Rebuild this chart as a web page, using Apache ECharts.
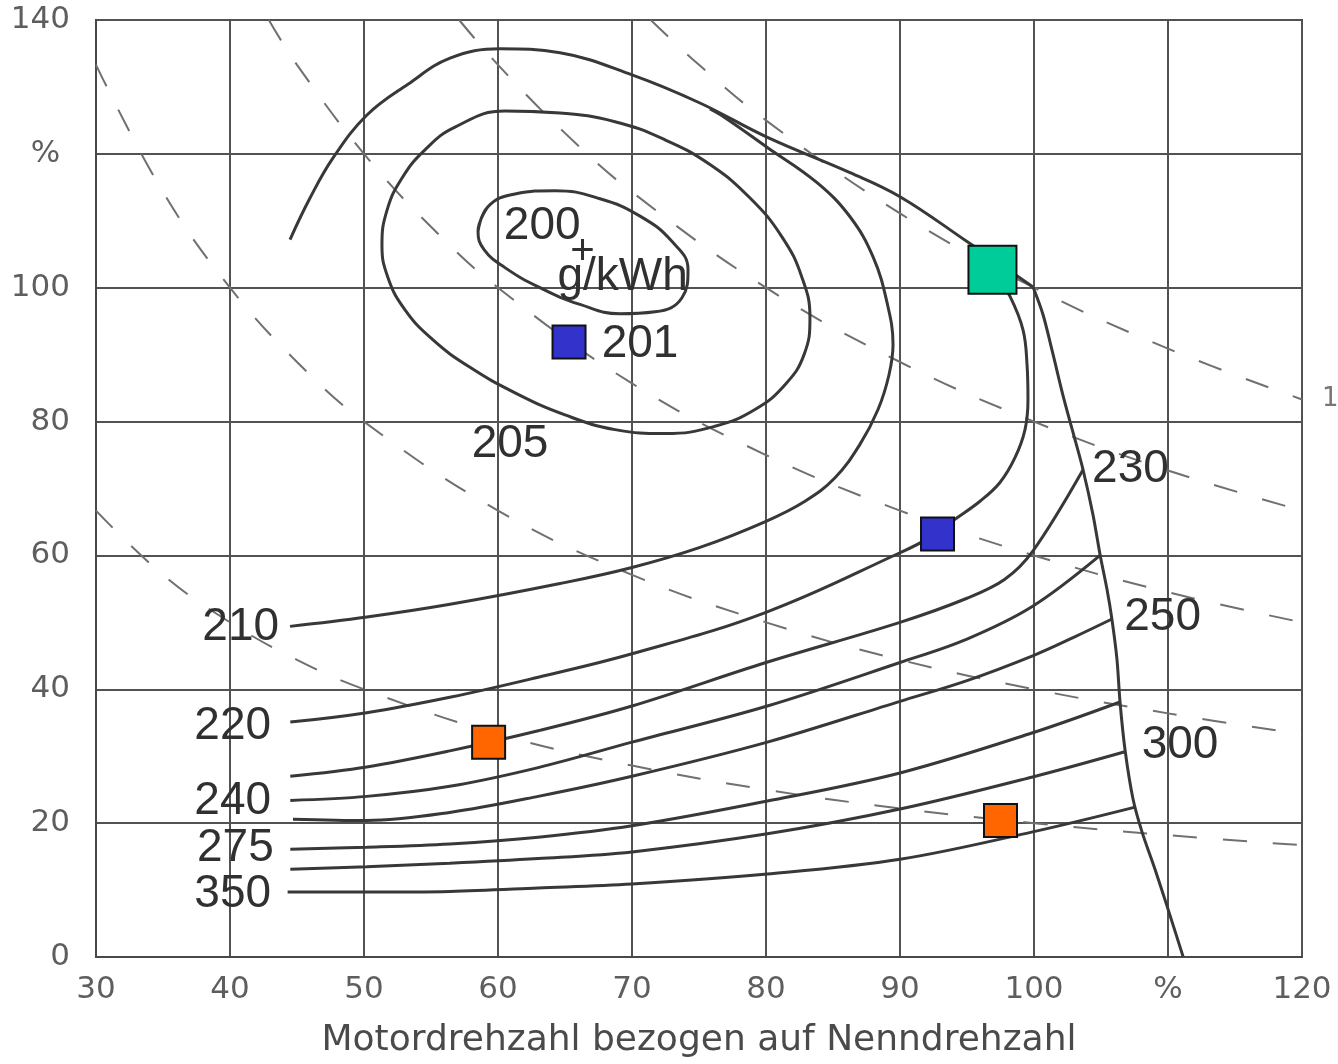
<!DOCTYPE html>
<html>
<head>
<meta charset="utf-8">
<script src="https://cdn.jsdelivr.net/npm/echarts@6/dist/echarts.min.js"></script>
<style>
html,body{margin:0;padding:0;background:#fff;}
#chart{width:1338px;height:1064px;}
</style>
</head>
<body>
<div id="chart"></div>
<script>
// ---- axis ticks ----
const xTickValues = [30, 40, 50, 60, 70, 80, 90, 100, 110, 120];
const xTickLabels = ['30', '40', '50', '60', '70', '80', '90', '100', '%', '120'];
const yTickValues = [0, 20, 40, 60, 80, 100, 120, 140];
const yTickLabels = ['0', '20', '40', '60', '80', '100', '% ', '140'];
const xAxisTitle = 'Motordrehzahl bezogen auf Nenndrehzahl';

// ---- full-load curve (speed %, load %) ----
const volllastOben = [[44.48,107.2],[45.97,113.4],[47.69,119.4],[50.22,125.8],[53.28,130.4],[56.42,134.3],[60.15,135.7],[64.63,135.1],[70.0,131.8],[75.07,127.6],[80.07,122.5],[86.27,117.2],[90.0,113.6],[95.0,106.9],[99.93,100.1]];
const volllastRechts = [[99.93,100.1],[100.67,96.0],[101.34,90.7],[102.24,83.3],[103.06,77.3],[103.66,72.8],[104.4,66.1],[104.93,60.1],[105.45,54.9],[105.82,50.4],[106.19,44.5],[106.42,38.1],[106.79,31.0],[107.39,23.6],[108.06,18.7],[109.03,13.1],[109.93,7.6],[111.12,0.1]];

// ---- specific fuel consumption contours (g/kWh) ----
const c201 = [[58.51,108.4],[59.25,112.1],[61.27,114.0],[64.25,114.5],[67.61,113.3],[70.6,110.7],[72.99,106.9],[74.18,102.7],[73.73,98.5],[71.72,96.4],[69.1,96.1],[66.12,97.5],[63.13,100.0],[60.52,103.0],[58.96,105.7],[58.51,108.4],[59.25,112.1]];
const c205 = [[60.52,126.4],[64.63,126.1],[68.73,124.8],[72.46,122.1],[75.82,118.4],[78.81,113.4],[81.19,107.6],[82.69,101.5],[83.28,95.5],[82.84,90.0],[81.42,85.5],[79.18,81.8],[76.19,79.3],[72.46,78.2],[68.73,78.8],[65.0,81.0],[61.27,84.3],[57.91,88.1],[55.15,92.2],[53.06,96.7],[51.79,101.5],[51.34,106.4],[51.72,111.6],[52.84,116.4],[54.55,120.6],[56.79,124.0],[60.52,126.4],[64.63,126.1]];
const c210 = [[44.48,49.4],[50.22,50.8],[56.42,52.7],[64.63,55.8],[70.0,58.2],[75.07,61.2],[80.0,65.1],[82.91,68.1],[85.15,71.6],[87.01,76.6],[88.36,81.8],[89.18,87.0],[89.48,91.5],[89.03,97.8],[87.99,104.6],[86.27,110.6],[83.81,115.7],[80.07,121.0],[76.94,125.4],[75.82,126.7]];
const c220 = [[44.5,35.1],[50.2,36.5],[56.4,38.8],[63.0,41.8],[70.0,45.3],[80.0,51.5],[90.0,60.4],[92.24,62.7],[94.1,65.4],[95.97,68.1],[97.46,70.9],[98.58,74.6],[99.33,78.8],[99.55,83.3],[99.48,88.5],[99.18,93.7],[98.21,98.7],[97.16,101.9]];
const c230 = [[44.5,27.0],[50.2,28.4],[56.4,30.8],[63.0,33.8],[70.0,37.5],[80.0,44.0],[90.0,50.0],[95.0,53.6],[97.8,56.4],[99.9,60.6],[103.66,72.8]];
const c240 = [[44.5,23.4],[50.2,24.0],[56.4,25.5],[63.0,28.3],[70.0,32.1],[80.1,37.5],[90.0,44.0],[95.0,47.5],[99.9,52.4],[104.93,60.0]];
const c250 = [[44.7,20.6],[50.2,20.4],[56.4,21.6],[63.0,24.0],[70.0,27.0],[80.1,32.1],[90.0,38.2],[95.0,41.3],[99.9,45.0],[103.0,47.8],[105.82,50.5]];
const c275 = [[44.5,16.1],[50.2,16.4],[56.4,16.9],[63.0,17.9],[70.0,19.6],[80.1,23.3],[90.0,27.5],[99.9,33.5],[106.42,38.1]];
const c300 = [[44.5,13.1],[50.2,13.5],[56.4,14.0],[63.0,14.7],[70.0,15.7],[80.1,18.4],[90.0,22.1],[99.9,26.9],[106.85,30.7]];
const c350 = [[44.3,9.7],[50.2,9.7],[56.4,9.8],[63.0,10.3],[70.0,10.9],[80.1,12.4],[90.0,14.6],[99.9,18.7],[107.55,22.4]];

// ---- constant-power lines (dashed) ----
const p20 = [[30,66.7],[35,57.1],[40,50.0],[45,44.4],[50,40.0],[60,33.3],[70,28.6],[80,25.0],[90,22.2],[100,20.0],[110,18.2],[120,16.7]];
const p40 = [[30,133.3],[35,114.3],[40,100.0],[45,88.9],[50,80.0],[60,66.7],[70,57.1],[80,50.0],[90,44.4],[100,40.0],[110,36.4],[120,33.3]];
const p60 = [[42.9,140],[45,133.3],[50,120.0],[55,109.1],[60,100.0],[70,85.7],[80,75.0],[90,66.7],[100,60.0],[110,54.5],[120,50.0]];
const p80 = [[57.1,140],[60,133.3],[65,123.1],[70,114.3],[80,100.0],[90,88.9],[100,80.0],[110,72.7],[120,66.7]];
const p100 = [[71.4,140],[75,133.3],[80,125.0],[90,111.1],[100,100.0],[110,90.9],[120,83.3]];

// ---- contour labels [speed, load, text] ----
const contourLabels = [[63.3,109.1,'200'],[69.3,101.5,'g/kWh'],[70.6,91.6,'201'],[60.9,76.6,'205'],[40.8,49.3,'210'],[40.2,34.5,'220'],[40.2,23.3,'240'],[40.4,16.3,'275'],[40.2,9.4,'350'],[107.2,72.8,'230'],[109.6,50.7,'250'],[110.9,31.6,'300']];
const optimumMark = [[66.3,105.2,'+']];

// ---- coloured operating points ----
const bluePoints = [[65.3,91.9],[92.8,63.2]];
const greenPoints = [[96.9,102.7]];
const orangePoints = [[59.3,32.1],[97.5,20.4]];

const lineColor = '#383838';
const contour = (name, data, s) => ({
  name, type: 'line', data, smooth: s, showSymbol: false, symbol: 'none',
  lineStyle: {color: lineColor, width: 3}, z: 3, silent: true
});
const dashed = (name, data) => ({
  name, type: 'line', data, smooth: 0.4, showSymbol: false, symbol: 'none',
  lineStyle: {color: '#707070', width: 2, type: [24, 26]}, z: 2, silent: true
});
const squares = (name, data, color, size) => ({
  name, type: 'scatter', data, symbol: 'rect', symbolSize: size,
  itemStyle: {color, borderColor: '#111', borderWidth: 2, opacity: 1}, z: 10
});

const chart = echarts.init(document.getElementById('chart'), null, {renderer: 'canvas'});
chart.setOption({
  animation: false,
  backgroundColor: '#ffffff',
  grid: {left: 96, right: 36, top: 20, bottom: 106, show: true, borderColor: '#484848', borderWidth: 2},
  xAxis: {
    type: 'value', min: 30, max: 120, interval: 10,
    name: xAxisTitle, nameLocation: 'middle', nameGap: 66,
    nameTextStyle: {fontFamily: 'DejaVu Sans', fontSize: 36, color: '#4a4a4a'},
    axisLine: {show: true, lineStyle: {color: '#484848', width: 2}},
    axisTick: {show: false},
    axisLabel: {margin: 17, fontFamily: 'DejaVu Sans', fontSize: 31, color: '#5e5e5e',
      formatter: v => { const i = xTickValues.indexOf(v); return i >= 0 ? xTickLabels[i] : ''; }},
    splitLine: {show: true, lineStyle: {color: '#525252', width: 2}}
  },
  yAxis: {
    type: 'value', min: 0, max: 140, interval: 20,
    axisLine: {show: true, lineStyle: {color: '#484848', width: 2}},
    axisTick: {show: false},
    axisLabel: {margin: 26, fontFamily: 'DejaVu Sans', fontSize: 31, color: '#5e5e5e',
      formatter: v => { const i = yTickValues.indexOf(v); return i >= 0 ? yTickLabels[i] : ''; }},
    splitLine: {show: true, lineStyle: {color: '#525252', width: 2}}
  },
  graphic: [{type: 'text', left: 1322, top: 386, style: {text: '1', fontFamily: 'DejaVu Sans', fontSize: 26, fill: '#777'}}],
  series: [
    dashed('P20', p20), dashed('P40', p40), dashed('P60', p60), dashed('P80', p80), dashed('P100', p100),
    contour('Volllast oben', volllastOben, 0.4), contour('Volllast', volllastRechts, 0.3),
    contour('201', c201, 0.45), contour('205', c205, 0.45), contour('210', c210, 0.4), contour('220', c220, 0.4),
    contour('230', c230, 0.35), contour('240', c240, 0.35), contour('250', c250, 0.35), contour('275', c275, 0.35),
    contour('300', c300, 0.35), contour('350', c350, 0.35),
    {
      name: 'labels', type: 'scatter', data: contourLabels, symbolSize: 1, silent: true,
      itemStyle: {color: 'rgba(0,0,0,0)'}, z: 6,
      label: {show: true, position: 'inside', formatter: p => p.data[2], opacity: 1,
        fontFamily: 'Liberation Sans', fontSize: 46, color: '#303030'}
    },
    {
      name: 'optimum', type: 'scatter', data: optimumMark, symbolSize: 1, silent: true,
      itemStyle: {color: 'rgba(0,0,0,0)'}, z: 6,
      label: {show: true, position: 'inside', formatter: p => p.data[2], opacity: 1,
        fontFamily: 'Liberation Sans', fontSize: 42, color: '#303030'}
    },
    squares('blau', bluePoints, '#3333cc', 33),
    squares('gruen', greenPoints, '#00cc99', 48),
    squares('orange', orangePoints, '#ff6600', 33)
  ]
});
</script>
</body>
</html>
